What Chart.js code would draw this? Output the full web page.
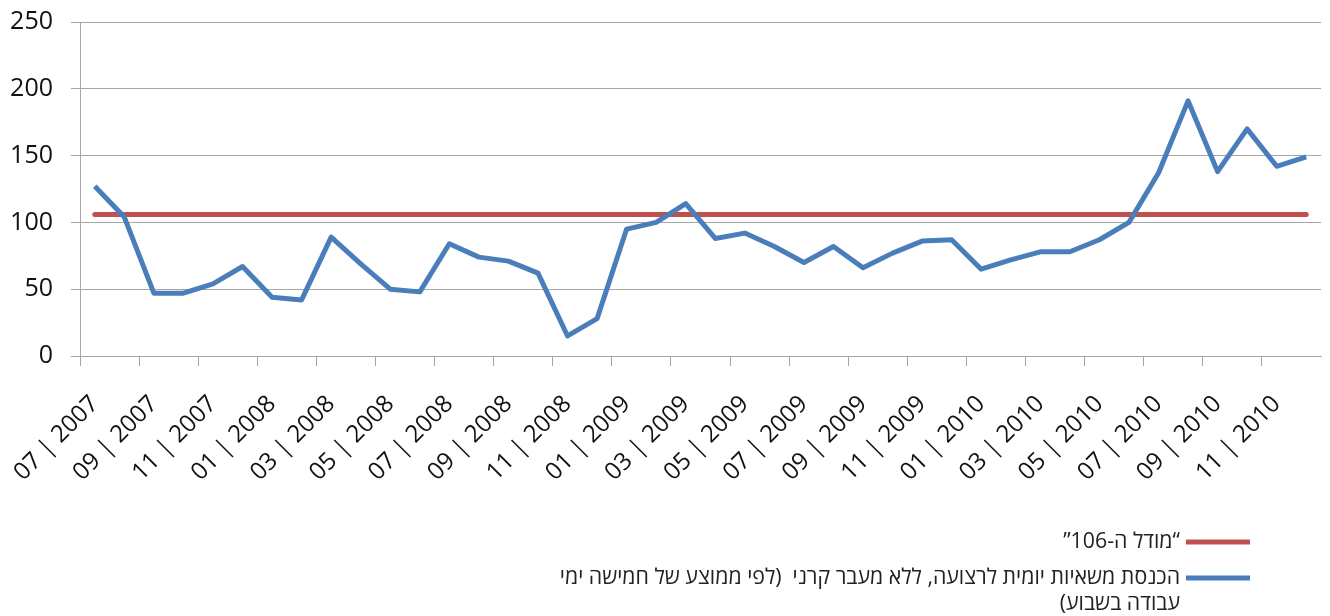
<!DOCTYPE html>
<html lang="he">
<head>
<meta charset="utf-8">
<title>כניסת משאיות לרצועה</title>
<script src="https://cdn.jsdelivr.net/npm/chart.js@4.4.1/dist/chart.umd.min.js"></script>
<style>
  html, body { margin: 0; padding: 0; background: #fff; }
  #wrap { width: 1330px; height: 616px; position: relative; }
</style>
</head>
<body>
<div id="wrap"><canvas id="trucksChart"></canvas></div>
<script>
// months from 07/2007 to 12/2010
const months = [
  "07 | 2007", "08 | 2007", "09 | 2007", "10 | 2007", "11 | 2007", "12 | 2007",
  "01 | 2008", "02 | 2008", "03 | 2008", "04 | 2008", "05 | 2008", "06 | 2008",
  "07 | 2008", "08 | 2008", "09 | 2008", "10 | 2008", "11 | 2008", "12 | 2008",
  "01 | 2009", "02 | 2009", "03 | 2009", "04 | 2009", "05 | 2009", "06 | 2009",
  "07 | 2009", "08 | 2009", "09 | 2009", "10 | 2009", "11 | 2009", "12 | 2009",
  "01 | 2010", "02 | 2010", "03 | 2010", "04 | 2010", "05 | 2010", "06 | 2010",
  "07 | 2010", "08 | 2010", "09 | 2010", "10 | 2010", "11 | 2010", "12 | 2010"
];

const dailyTrucks = [
  127, 104, 47, 47, 54, 67, 44, 42, 89, 69, 50, 48,
  84, 74, 71, 62, 15, 28, 95, 100, 114, 88, 92, 82,
  70, 82, 66, 77, 86, 87, 65, 72, 78, 78, 87, 100,
  137, 191, 138, 170, 142, 149
];

const model106 = [
  106, 106, 106, 106, 106, 106, 106, 106, 106, 106, 106, 106,
  106, 106, 106, 106, 106, 106, 106, 106, 106, 106, 106, 106,
  106, 106, 106, 106, 106, 106, 106, 106, 106, 106, 106, 106,
  106, 106, 106, 106, 106, 106
];

const yTicks = [0, 50, 100, 150, 200, 250];

const modelLabel = ["“מודל ה-106”"];
const trucksLabel = [
  "הכנסת משאיות יומית לרצועה, ללא מעבר קרני  (לפי ממוצע של חמישה ימי",
  "עבודה בשבוע)"
];

const gridGray = "#a6a6a6";

// legend drawn under the chart, sample line on the right of the text (RTL)
const rtlLegend = {
  id: "rtlLegend",
  afterDraw(chart) {
    const ctx = chart.ctx;
    const rows = [
      { ds: chart.data.datasets[1], y: 542 },
      { ds: chart.data.datasets[0], y: 578 }
    ];
    ctx.save();
    ctx.font = '21.3px "Open Sans", "DejaVu Sans", sans-serif';
    ctx.fillStyle = "#222";
    ctx.direction = "rtl";
    ctx.textAlign = "right";
    ctx.textBaseline = "middle";
    rows.forEach((r) => {
      ctx.strokeStyle = r.ds.borderColor;
      ctx.lineWidth = 5;
      ctx.beginPath();
      ctx.moveTo(1186, r.y);
      ctx.lineTo(1250, r.y);
      ctx.stroke();
      r.ds.label.forEach((line, i) => {
        ctx.fillText(line, 1180, r.y + i * 26);
      });
    });
    ctx.restore();
  }
};

const ctx = document.getElementById("trucksChart").getContext("2d");
new Chart(ctx, {
  type: "line",
  data: {
    labels: months,
    datasets: [
      {
        label: trucksLabel,
        data: dailyTrucks,
        borderColor: "#4a7ebb",
        borderWidth: 5,
        pointRadius: 0,
        tension: 0,
        borderJoinStyle: "round",
        order: 0
      },
      {
        label: modelLabel,
        data: model106,
        borderColor: "#c0504d",
        borderWidth: 5,
        pointRadius: 0,
        borderCapStyle: "round",
        order: 1
      }
    ]
  },
  options: {
    responsive: true,
    maintainAspectRatio: false,
    animation: false,
    layout: { padding: { top: 22, right: 9, left: 0, bottom: 0 } },
    plugins: {
      legend: { display: false },
      tooltip: { enabled: false }
    },
    scales: {
      x: {
        offset: true,
        border: { color: gridGray, width: 1 },
        grid: {
          offset: true,
          drawOnChartArea: false,
          tickLength: 10,
          color: (c) => (c.index % 2 === 0 ? gridGray : "rgba(0,0,0,0)")
        },
        ticks: {
          autoSkip: false,
          maxRotation: 45,
          minRotation: 45,
          padding: 24,
          color: "#111",
          font: { family: '"Open Sans", sans-serif', size: 24 },
          callback: function (v, i) {
            return i % 2 === 0 ? this.getLabelForValue(v) : "";
          }
        },
        afterFit: (s) => {
          s.height = 260;
          s.paddingLeft = 0;
          s.paddingRight = 0;
        }
      },
      y: {
        min: 0,
        max: 250,
        border: { color: gridGray, width: 1 },
        grid: { color: gridGray, tickLength: 9 },
        afterBuildTicks: (s) => { s.ticks = yTicks.map((v) => ({ value: v })); },
        ticks: {
          padding: 18,
          color: "#111",
          font: { family: '"Open Sans", sans-serif', size: 25 }
        },
        afterFit: (s) => {
          s.width = 80;
          s.paddingTop = 0;
          s.paddingBottom = 0;
        }
      }
    }
  },
  plugins: [rtlLegend]
});
</script>
</body>
</html>
